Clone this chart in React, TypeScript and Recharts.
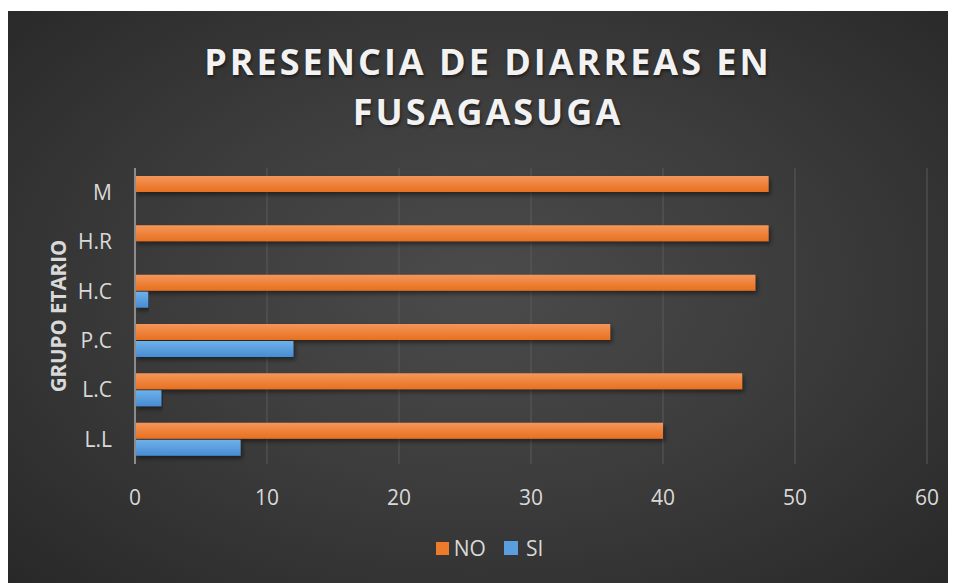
import React from "react";
import {
  BarChart,
  Bar,
  XAxis,
  YAxis,
  CartesianGrid,
  Legend,
  Label,
} from "recharts";

const categories = ["M", "H.R", "H.C", "P.C", "L.C", "L.L"];
const noValues = [48, 48, 47, 36, 46, 40];
const siValues = [0, 0, 1, 12, 2, 8];
const xTicks = [0, 10, 20, 30, 40, 50, 60];

const data = categories.map((grupo, i) => ({
  grupo,
  NO: noValues[i],
  SI: siValues[i],
}));

const FONT = "'Open Sans', 'DejaVu Sans', sans-serif";
const TICK = { fill: "#d9d9d9", fontSize: 21, fontFamily: FONT };

const LegendContent = () => (
  <div
    style={{
      display: "flex",
      justifyContent: "center",
      alignItems: "center",
      gap: 18,
      paddingLeft: 44,
      fontFamily: FONT,
      fontSize: 21,
      color: "#d9d9d9",
    }}
  >
    <span style={{ display: "flex", alignItems: "center", gap: 5 }}>
      <span style={{ width: 13, height: 13, background: "#ee7b2c" }} />
      NO
    </span>
    <span style={{ display: "flex", alignItems: "center", gap: 8 }}>
      <span style={{ width: 14, height: 14, background: "#5a9ee0" }} />
      SI
    </span>
  </div>
);

export default function App() {
  return (
    <div
      style={{
        position: "relative",
        marginTop: 3,
        width: 948,
        height: 572,
        background:
          "radial-gradient(ellipse 70% 75% at 50% 48%, #4b4b4b 0%, #3d3d3d 45%, #282828 100%)",
      }}
    >
      <div
        style={{
          position: "absolute",
          top: 26,
          left: 6,
          width: 948,
          textAlign: "center",
          fontFamily: FONT,
          fontWeight: 700,
          fontSize: 36,
          lineHeight: "50px",
          letterSpacing: 3,
          color: "#f2f2f2",
          textShadow: "1px 2px 3px rgba(0,0,0,0.5)",
        }}
      >
        PRESENCIA DE DIARREAS EN
        <br />
        FUSAGASUGA
      </div>
      <BarChart
        width={948}
        height={572}
        data={data}
        layout="vertical"
        margin={{ top: 157, right: 29, bottom: 41, left: 0 }}
        barSize={16}
        barGap={1}
      >
        <defs>
          <linearGradient id="gradNo" x1="0" y1="0" x2="0" y2="1">
            <stop offset="0%" stopColor="#f5965a" />
            <stop offset="100%" stopColor="#e8701f" />
          </linearGradient>
          <linearGradient id="gradSi" x1="0" y1="0" x2="0" y2="1">
            <stop offset="0%" stopColor="#6eb1ea" />
            <stop offset="100%" stopColor="#478cd3" />
          </linearGradient>
          <filter id="barShadow" x="-5%" y="-30%" width="110%" height="180%">
            <feDropShadow dx="2" dy="3" stdDeviation="2" floodColor="#000" floodOpacity="0.45" />
          </filter>
        </defs>
        <CartesianGrid horizontal={false} stroke="#5a5a5a" strokeWidth={1} />
        <XAxis
          type="number"
          domain={[0, 60]}
          ticks={xTicks}
          axisLine={false}
          tickLine={false}
          tick={TICK}
          tickMargin={20}
          height={50}
        />
        <YAxis
          type="category"
          dataKey="grupo"
          width={127}
          axisLine={{ stroke: "#8c8c8c", strokeWidth: 2 }}
          tickLine={false}
          tick={TICK}
          tickMargin={17}
        >
          <Label
            content={({ viewBox }: any) => {
              const cx = viewBox.x + 50;
              const cy = viewBox.y + viewBox.height / 2;
              return (
                <text
                  x={cx}
                  y={cy}
                  transform={`rotate(-90 ${cx} ${cy})`}
                  textAnchor="middle"
                  dominantBaseline="central"
                  fill="#d9d9d9"
                  fontFamily={FONT}
                  fontWeight={700}
                  fontSize={20.5}
                >
                  GRUPO ETARIO
                </text>
              );
            }}
          />
        </YAxis>
        <Legend
          verticalAlign="bottom"
          content={<LegendContent />}
          wrapperStyle={{ bottom: 21 }}
        />
        <Bar
          dataKey="NO"
          fill="url(#gradNo)"
          filter="url(#barShadow)"
          isAnimationActive={false}
        />
        <Bar
          dataKey="SI"
          fill="url(#gradSi)"
          filter="url(#barShadow)"
          isAnimationActive={false}
        />
      </BarChart>
    </div>
  );
}
